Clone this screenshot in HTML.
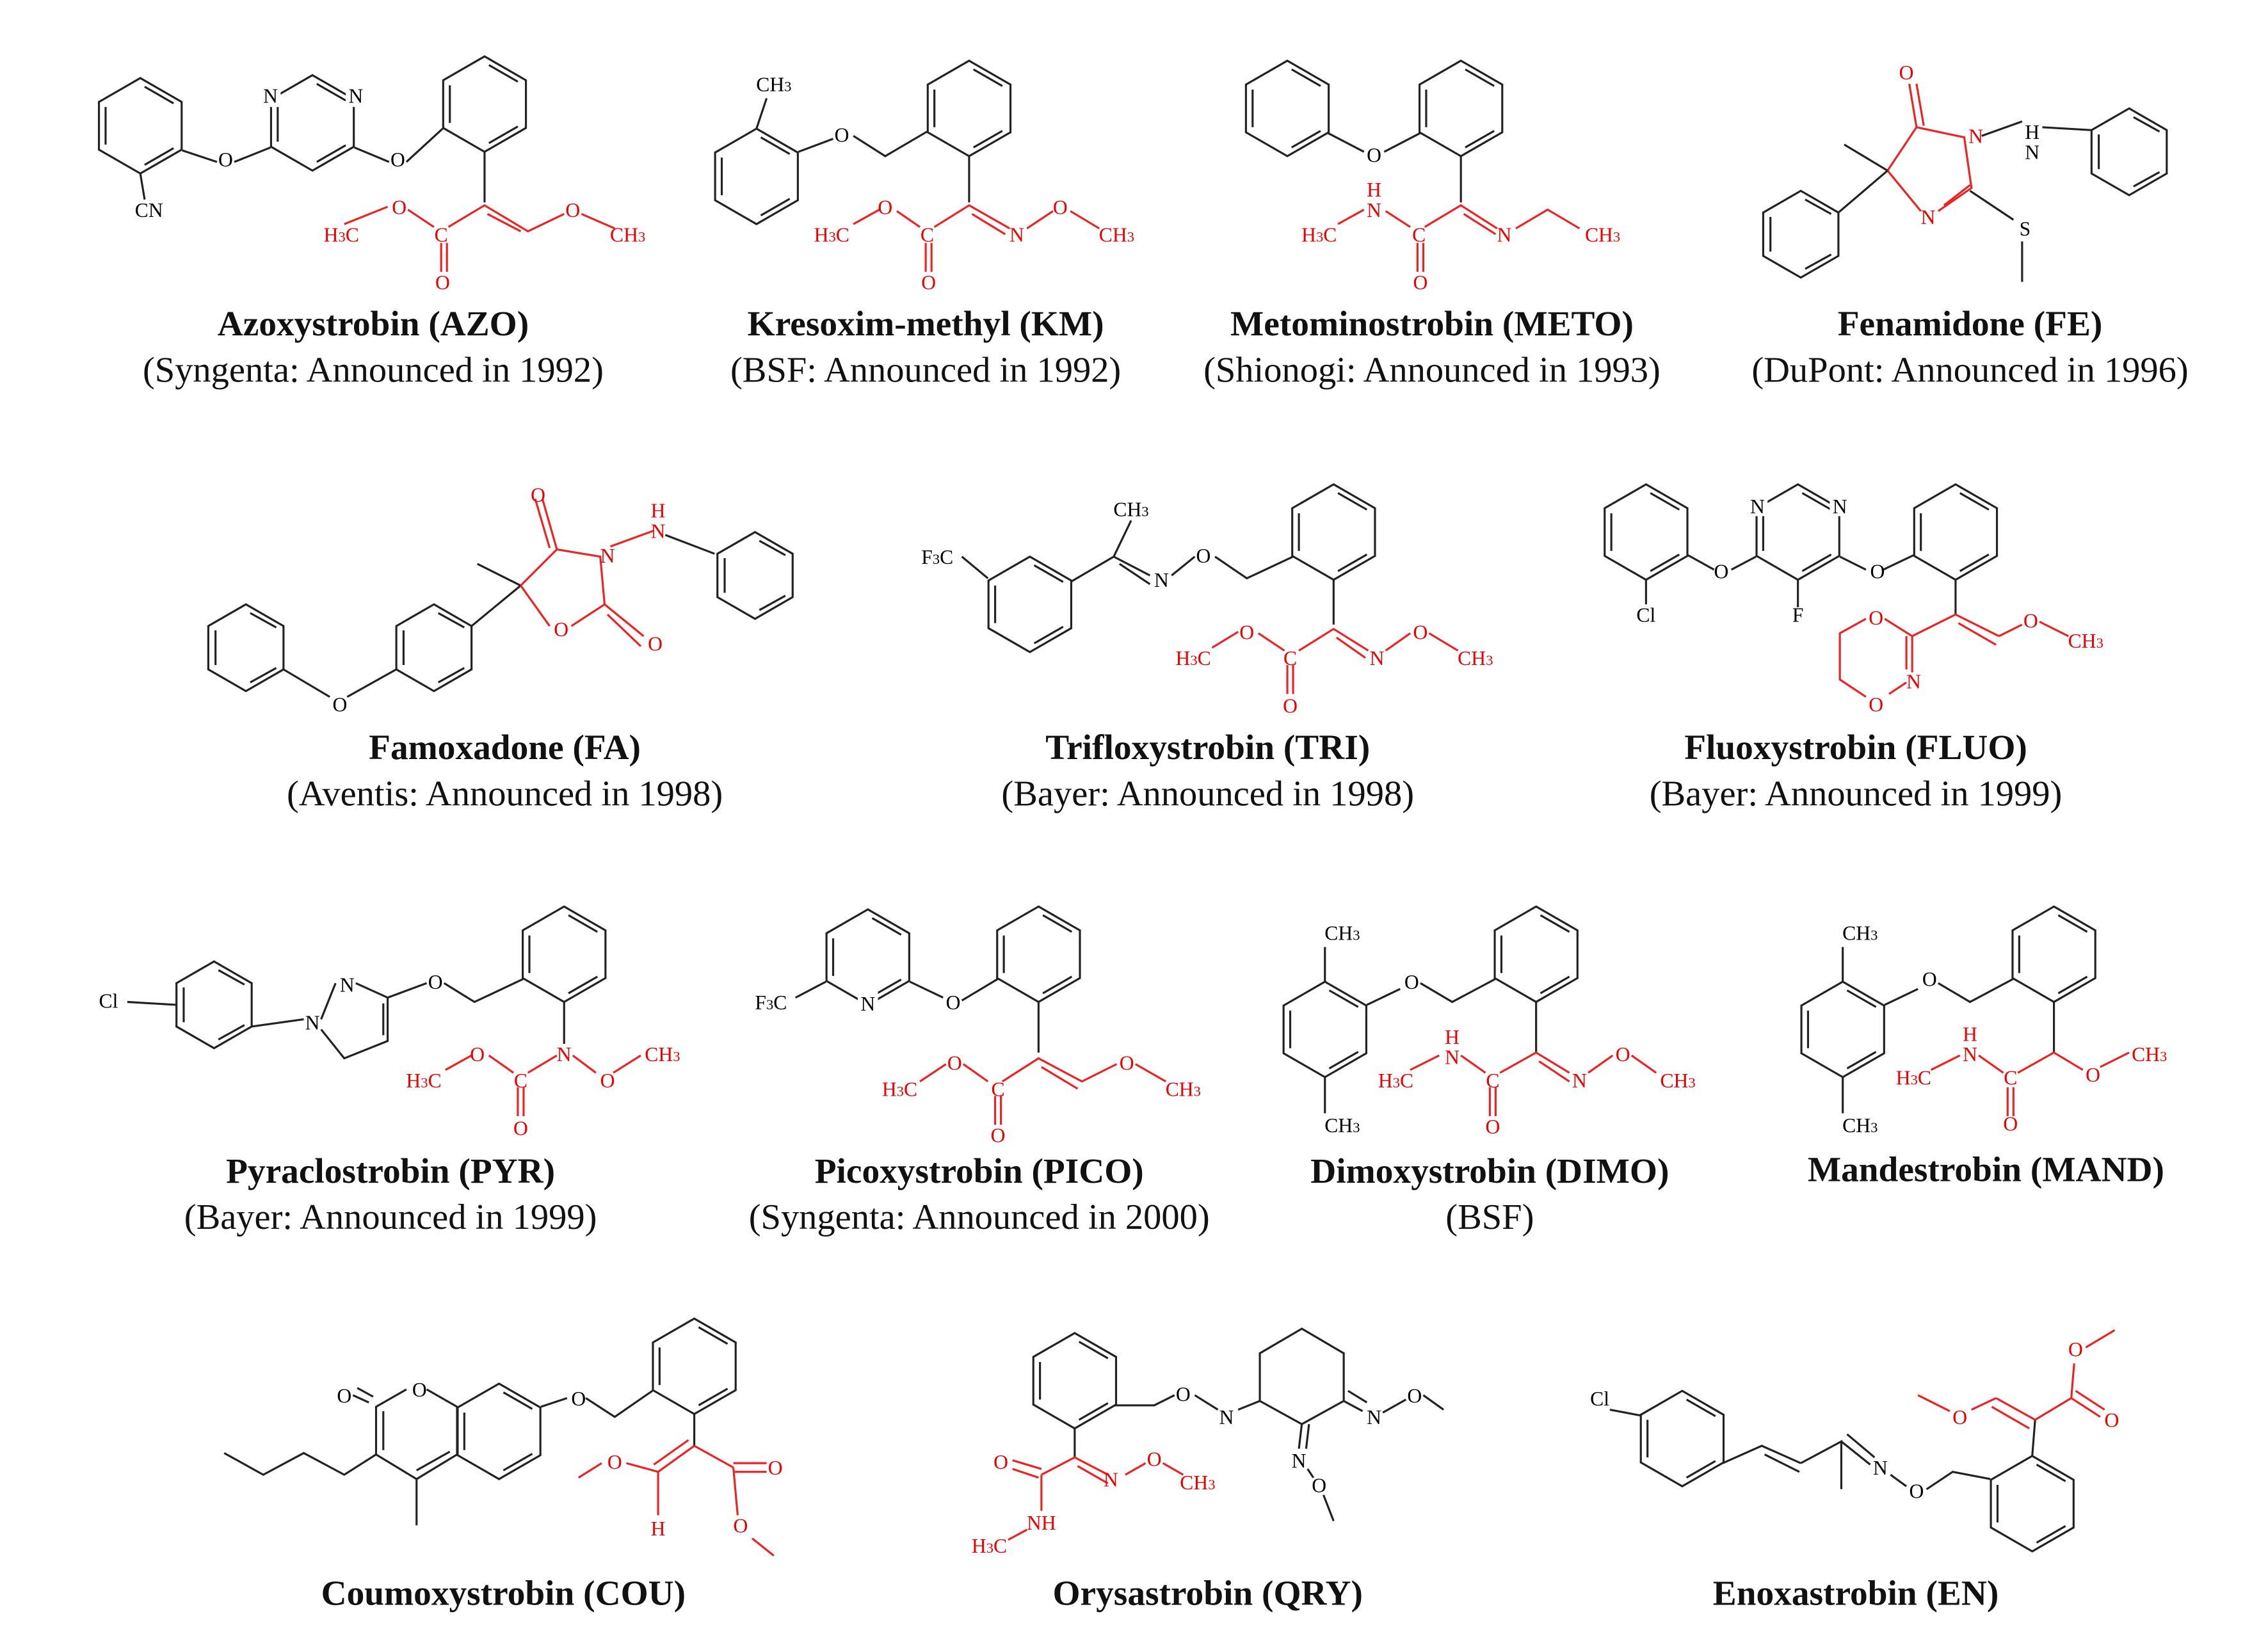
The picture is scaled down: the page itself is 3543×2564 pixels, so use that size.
<!DOCTYPE html>
<html><head><meta charset="utf-8"><style>
html,body{margin:0;padding:0;background:#fff;}
svg{display:block;}
text{font-family:"Liberation Serif",serif;}
.t{font-weight:bold;font-size:24.5px;text-anchor:middle;fill:#111;}
.s{font-size:25px;text-anchor:middle;fill:#111;}
.a{font-size:14px;fill:#000;text-anchor:middle;}
.r{font-size:14px;fill:#e00;text-anchor:middle;}
.k{stroke:#222;stroke-width:1.4;fill:none;}
.rd{stroke:#e22;stroke-width:1.4;fill:none;}
.w{fill:#fff;stroke:none;}
</style></head><body>
<svg width="3543" height="2564" viewBox="0 0 1568 1135" preserveAspectRatio="none" xmlns="http://www.w3.org/2000/svg">
<defs>
<g id="hx"><path d="M0,-33 L28.6,-16.5 L28.6,16.5 L0,33 L-28.6,16.5 L-28.6,-16.5 Z"/><path d="M3,-27 L23,-15.5 M23,15.5 L3,27 M-24,13 L-24,-13"/></g>
<g id="hx5"><path d="M0,-30 L26,-15 L26,15 L0,30 L-26,15 L-26,-15 Z"/><path d="M3,-24 L21,-14 M21,14 L3,24 M-21,12 L-21,-12"/></g>
</defs>

<!-- ===== AZO ===== -->
<g class="k">
<use href="#hx" x="97" y="87"/>
<use href="#hx" x="216" y="85"/>
<use href="#hx" x="335" y="72"/>
<path d="M126,104 L150,112 M162,112 L187,102 M245,102 L269,112 M281,112 L306,89 M97,120 L100,138 M335,105 L335,140"/>
</g>
<rect class="w" x="180" y="58" width="14" height="16"/><rect class="w" x="239" y="58" width="14" height="16"/>
<text class="a" x="187" y="71">N</text><text class="a" x="246" y="71">N</text>
<text class="a" x="156" y="115">O</text><text class="a" x="275" y="115">O</text>
<text class="a" x="103" y="150">CN</text>
<g class="rd"><path d="M238,155 L268,143 M282,145 L300,157 M310,157 L335,142 L365,160 L390,148 M337,148 L360,160 M402,148 L425,158 M305,168 L305,188 M309,168 L309,188"/></g>
<text class="r" x="236" y="167">H<tspan font-size="10">3</tspan>C</text><text class="r" x="276" y="148">O</text>
<text class="r" x="305" y="167">C</text><text class="r" x="306" y="200">O</text>
<text class="r" x="396" y="150">O</text><text class="r" x="434" y="167">CH<tspan font-size="10">3</tspan></text>
<text class="t" x="258" y="232">Azoxystrobin (AZO)</text>
<text class="s" x="258" y="264">(Syngenta: Announced in 1992)</text>

<!-- ===== KM ===== -->
<g class="k">
<use href="#hx" x="523" y="122"/>
<use href="#hx" x="670" y="75"/>
<path d="M523,89 L530,68 M552,105 L576,96 M590,94 L612,108 L641,91 M670,108 L670,140"/>
</g>
<text class="a" x="535" y="63">CH<tspan font-size="10">3</tspan></text>
<text class="a" x="582" y="98">O</text>
<g class="rd"><path d="M590,155 L608,145 M620,146 L636,157 M646,157 L670,142 L698,158 M672,148 L695,162 M710,158 L728,146 M740,146 L760,158 M640,168 L640,188 M644,168 L644,188"/></g>
<text class="r" x="575" y="167">H<tspan font-size="10">3</tspan>C</text><text class="r" x="612" y="148">O</text>
<text class="r" x="641" y="167">C</text><text class="r" x="642" y="200">O</text>
<text class="r" x="703" y="167">N</text><text class="r" x="733" y="148">O</text><text class="r" x="772" y="167">CH<tspan font-size="10">3</tspan></text>
<text class="t" x="640" y="232">Kresoxim-methyl (KM)</text>
<text class="s" x="640" y="264">(BSF: Announced in 1992)</text>

<!-- ===== METO ===== -->
<g class="k">
<use href="#hx" x="890" y="75"/>
<use href="#hx" x="1010" y="75"/>
<path d="M918,92 L943,105 M957,105 L982,92 M1010,108 L1010,140"/>
</g>
<text class="a" x="950" y="112">O</text>
<g class="rd"><path d="M925,155 L943,145 M958,146 L975,157 M985,157 L1010,142 L1035,158 M1012,148 L1034,162 M1048,158 L1070,145 L1092,158 M980,168 L980,188 M984,168 L984,188"/></g>
<text class="r" x="912" y="167">H<tspan font-size="10">3</tspan>C</text><text class="r" x="950" y="136">H</text><text class="r" x="950" y="150">N</text>
<text class="r" x="981" y="167">C</text><text class="r" x="982" y="200">O</text>
<text class="r" x="1040" y="167">N</text><text class="r" x="1108" y="167">CH<tspan font-size="10">3</tspan></text>
<text class="t" x="990" y="232">Metominostrobin (METO)</text>
<text class="s" x="990" y="264">(Shionogi: Announced in 1993)</text>

<!-- ===== FE ===== -->
<g class="rd"><path d="M1305,118 L1325,88 L1358,95 L1363,130 L1340,146 M1328,146 L1305,118 M1325,88 L1320,58 M1330,87 L1325,58 M1344,142 L1362,128"/></g>
<g class="k"><use href="#hx5" x="1472" y="105"/><use href="#hx5" x="1245" y="162"/>
<path d="M1370,94 L1398,84 M1412,88 L1446,90 M1305,118 L1271,147 M1305,118 L1275,100 M1362,132 L1392,152 M1398,167 L1398,195"/></g>
<text class="r" x="1318" y="55">O</text><text class="r" x="1366" y="99">N</text><text class="r" x="1333" y="155">N</text>
<text class="a" x="1405" y="96">H</text><text class="a" x="1405" y="110">N</text><text class="a" x="1400" y="163">S</text>
<text class="t" x="1362" y="232">Fenamidone (FE)</text>
<text class="s" x="1362" y="264">(DuPont: Announced in 1996)</text>

<!-- ===== FA ===== -->
<g class="k"><use href="#hx5" x="170" y="448"/><use href="#hx5" x="300" y="448"/><use href="#hx5" x="522" y="398"/>
<path d="M196,463 L228,482 M240,482 L274,463 M326,433 L360,405 M360,405 L330,390 M460,370 L494,383"/></g>
<g class="rd"><path d="M360,405 L385,380 L415,385 L418,418 L395,433 M380,433 L360,405 M385,380 L375,345 M380,379 L370,345 M422,378 L452,367 M418,418 L445,440 M420,425 L443,447"/></g>
<text class="a" x="235" y="492">O</text>
<text class="r" x="372" y="347">O</text><text class="r" x="420" y="389">N</text><text class="r" x="388" y="440">O</text><text class="r" x="453" y="450">O</text>
<text class="r" x="455" y="358">H</text><text class="r" x="455" y="372">N</text>
<text class="t" x="349" y="525">Famoxadone (FA)</text>
<text class="s" x="349" y="557">(Aventis: Announced in 1998)</text>

<!-- ===== TRI ===== -->
<g class="k"><use href="#hx" x="712" y="418"/><use href="#hx" x="922" y="368"/>
<path d="M665,385 L683,400 M741,402 L770,385 L782,360 M770,385 L795,398 M774,390 L795,404 M810,398 L826,385 M840,385 L862,400 L894,385 M922,401 L922,432"/></g>
<text class="a" x="648" y="390">F<tspan font-size="10">3</tspan>C</text><text class="a" x="782" y="357">CH<tspan font-size="10">3</tspan></text>
<text class="a" x="803" y="406">N</text><text class="a" x="832" y="389">O</text>
<g class="rd"><path d="M838,448 L856,437 M870,438 L888,450 M898,450 L922,435 L946,450 M924,441 L944,455 M958,450 L975,438 M988,438 L1008,450 M890,460 L890,480 M894,460 L894,480"/></g>
<text class="r" x="825" y="460">H<tspan font-size="10">3</tspan>C</text><text class="r" x="862" y="442">O</text>
<text class="r" x="892" y="460">C</text><text class="r" x="892" y="493">O</text>
<text class="r" x="952" y="460">N</text><text class="r" x="982" y="442">O</text><text class="r" x="1020" y="460">CH<tspan font-size="10">3</tspan></text>
<text class="t" x="835" y="525">Trifloxystrobin (TRI)</text>
<text class="s" x="835" y="557">(Bayer: Announced in 1998)</text>

<!-- ===== FLUO ===== -->
<g class="k"><use href="#hx" x="1138" y="368"/>
<use href="#hx" x="1243" y="368"/>
<use href="#hx" x="1352" y="368"/>
<path d="M1167,384 L1185,394 M1197,394 L1214,385 M1272,385 L1290,394 M1302,394 L1323,384 M1243,401 L1243,420 M1138,401 L1138,418 M1352,401 L1352,425"/></g>
<rect class="w" x="1208" y="341" width="14" height="16"/><rect class="w" x="1265" y="341" width="14" height="16"/>
<text class="a" x="1215" y="355">N</text><text class="a" x="1272" y="355">N</text>
<text class="a" x="1190" y="400">O</text><text class="a" x="1298" y="400">O</text>
<text class="a" x="1138" y="430">Cl</text><text class="a" x="1243" y="430">F</text>
<g class="rd"><path d="M1290,428 L1272,438 L1272,470 L1290,482 M1303,428 L1322,440 L1322,465 M1318,440 L1318,463 M1322,440 L1352,425 L1382,440 M1354,431 L1380,446 M1382,440 L1398,432 M1410,430 L1430,440 M1306,480 L1318,472"/></g>
<text class="r" x="1297" y="432">O</text><text class="r" x="1297" y="492">O</text><text class="r" x="1323" y="476">N</text>
<text class="r" x="1404" y="434">O</text><text class="r" x="1442" y="448">CH<tspan font-size="10">3</tspan></text>
<text class="t" x="1283" y="525">Fluoxystrobin (FLUO)</text>
<text class="s" x="1283" y="557">(Bayer: Announced in 1999)</text>

<!-- ===== PYR ===== -->
<g class="k"><use href="#hx5" x="148" y="695"/>
<path d="M174,710 L210,705 M222,705 L232,680 M246,680 L268,690 L268,720 L238,732 L222,712 M265,694 L265,716 M268,690 L295,680 M307,680 L328,693 L362,677"/>
<use href="#hx" x="390" y="660"/><path d="M88,693 L122,695 M390,693 L390,722"/></g>
<text class="a" x="75" y="697">Cl</text><text class="a" x="216" y="712">N</text><text class="a" x="240" y="686">N</text><text class="a" x="301" y="684">O</text>
<g class="rd"><path d="M308,740 L326,730 M338,730 L355,742 M365,742 L385,730 M396,730 L412,742 M424,742 L443,730 M358,752 L358,772 M362,752 L362,772"/></g>
<text class="r" x="293" y="752">H<tspan font-size="10">3</tspan>C</text><text class="r" x="330" y="734">O</text>
<text class="r" x="360" y="752">C</text><text class="r" x="360" y="785">O</text>
<text class="r" x="390" y="734">N</text><text class="r" x="420" y="752">O</text><text class="r" x="458" y="734">CH<tspan font-size="10">3</tspan></text>
<text class="t" x="270" y="818">Pyraclostrobin (PYR)</text>
<text class="s" x="270" y="850">(Bayer: Announced in 1999)</text>

<!-- ===== PICO ===== -->
<g class="k"><use href="#hx" x="600" y="662"/>
<path d="M550,690 L571,679 M629,679 L652,690 M665,692 L690,677 M718,693 L718,728"/>
<use href="#hx" x="718" y="660"/></g>
<rect class="w" x="593" y="686" width="14" height="16"/>
<text class="a" x="533" y="698">F<tspan font-size="10">3</tspan>C</text><text class="a" x="600" y="699">N</text><text class="a" x="659" y="698">O</text>
<g class="rd"><path d="M636,748 L654,736 M666,736 L683,748 M693,748 L718,732 L748,748 L772,736 M720,738 L745,753 M785,736 L806,748 M688,758 L688,778 M692,758 L692,778"/></g>
<text class="r" x="622" y="758">H<tspan font-size="10">3</tspan>C</text><text class="r" x="660" y="740">O</text>
<text class="r" x="690" y="758">C</text><text class="r" x="690" y="790">O</text>
<text class="r" x="779" y="740">O</text><text class="r" x="818" y="758">CH<tspan font-size="10">3</tspan></text>
<text class="t" x="677" y="818">Picoxystrobin (PICO)</text>
<text class="s" x="677" y="850">(Syngenta: Announced in 2000)</text>

<!-- ===== DIMO ===== -->
<g class="k"><use href="#hx" x="916" y="712"/><use href="#hx" x="1062" y="660"/>
<path d="M916,679 L916,655 M916,745 L916,770 M945,695 L968,684 M982,680 L1004,693 L1034,677 M1062,693 L1062,728"/></g>
<text class="a" x="928" y="650">CH<tspan font-size="10">3</tspan></text><text class="a" x="928" y="783">CH<tspan font-size="10">3</tspan></text><text class="a" x="976" y="684">O</text>
<g class="rd"><path d="M975,740 L995,730 M1010,730 L1027,742 M1037,742 L1062,728 L1085,742 M1064,734 L1085,748 M1098,742 L1115,730 M1128,730 L1145,742 M1030,752 L1030,772 M1034,752 L1034,772"/></g>
<text class="r" x="965" y="752">H<tspan font-size="10">3</tspan>C</text><text class="r" x="1004" y="722">H</text><text class="r" x="1004" y="736">N</text>
<text class="r" x="1032" y="752">C</text><text class="r" x="1032" y="784">O</text>
<text class="r" x="1092" y="752">N</text><text class="r" x="1122" y="734">O</text><text class="r" x="1160" y="752">CH<tspan font-size="10">3</tspan></text>
<text class="t" x="1030" y="818">Dimoxystrobin (DIMO)</text>
<text class="s" x="1030" y="850">(BSF)</text>

<!-- ===== MAND ===== -->
<g class="k"><use href="#hx" x="1274" y="712"/><use href="#hx" x="1420" y="660"/>
<path d="M1274,679 L1274,655 M1274,745 L1274,770 M1303,695 L1326,684 M1340,680 L1362,693 L1392,677 M1420,693 L1420,728"/></g>
<text class="a" x="1286" y="650">CH<tspan font-size="10">3</tspan></text><text class="a" x="1286" y="783">CH<tspan font-size="10">3</tspan></text><text class="a" x="1334" y="682">O</text>
<g class="rd"><path d="M1335,740 L1355,730 M1368,730 L1385,742 M1395,742 L1420,728 L1440,740 M1452,738 L1472,728 M1388,752 L1388,772 M1392,752 L1392,772"/></g>
<text class="r" x="1323" y="750">H<tspan font-size="10">3</tspan>C</text><text class="r" x="1362" y="720">H</text><text class="r" x="1362" y="734">N</text>
<text class="r" x="1390" y="750">C</text><text class="r" x="1390" y="782">O</text>
<text class="r" x="1447" y="748">O</text><text class="r" x="1486" y="734">CH<tspan font-size="10">3</tspan></text>
<text class="t" x="1373" y="817">Mandestrobin (MAND)</text>

<!-- ===== COU ===== -->
<g class="k">
<path d="M281,961 L260,973 L260,1006 L288,1023 L316,1006 L316,973 L295,961 M265,976 L265,1003 M288,1017 L311,1004"/>
<use href="#hx" x="345" y="990"/>
<path d="M255,970 L244,965 M258,966 L247,960 M260,1006 L238,1020 L210,1005 L182,1020 L155,1005 M288,1023 L288,1055 M374,973 L392,967 M405,967 L425,980 L451,962 M480,978 L480,1000"/>
<use href="#hx" x="480" y="945"/></g>
<text class="a" x="238" y="970">O</text><text class="a" x="290" y="966">O</text><text class="a" x="400" y="972">O</text>
<g class="rd"><path d="M480,1000 L455,1018 M476,996 L452,1013 M455,1018 L433,1012 M416,1012 L400,1022 M455,1018 L455,1048 M480,1000 L507,1015 M507,1012 L530,1012 M507,1018 L530,1018 M507,1015 L510,1048 M520,1064 L535,1076"/></g>
<text class="r" x="425" y="1016">O</text><text class="r" x="455" y="1062">H</text><text class="r" x="536" y="1020">O</text><text class="r" x="512" y="1060">O</text>
<text class="t" x="348" y="1110">Coumoxystrobin (COU)</text>

<!-- ===== QRY ===== -->
<g class="k"><use href="#hx" x="743" y="955"/>
<path d="M771,972 L798,972 L812,965 M826,965 L842,975 M900,919 L929,936 L929,969 L900,985 L871,969 L871,936 Z M856,975 L871,969 M929,969 L942,976 M932,962 L945,970 M956,977 L972,968 M984,965 L998,975 M900,985 L898,1002 M905,985 L903,1002 M904,1016 L908,1022 M915,1034 L922,1052 M743,988 L743,1008"/></g>
<text class="a" x="848" y="985">N</text><text class="a" x="818" y="969">O</text><text class="a" x="950" y="985">N</text>
<text class="a" x="898" y="1015">N</text><text class="a" x="912" y="1032">O</text><text class="a" x="978" y="970">O</text>
<g class="rd"><path d="M700,1010 L720,1016 M700,1016 L718,1022 M720,1020 L743,1008 L766,1020 M745,1014 L766,1026 M778,1020 L792,1012 M804,1012 L818,1020 M720,1020 L720,1045 M710,1058 L697,1065"/></g>
<text class="r" x="692" y="1016">O</text><text class="r" x="768" y="1028">N</text><text class="r" x="798" y="1014">O</text><text class="r" x="828" y="1030">CH<tspan font-size="10">3</tspan></text>
<text class="r" x="720" y="1058">NH</text><text class="r" x="684" y="1074">H<tspan font-size="10">3</tspan>C</text>
<text class="t" x="835" y="1110">Orysastrobin (QRY)</text>

<!-- ===== EN ===== -->
<g class="k"><use href="#hx" x="1163" y="995"/>
<path d="M1113,975 L1134,979 M1191,1012 L1218,1000 L1245,1012 M1220,1006 L1244,1018 M1245,1012 L1273,997 L1273,1030 M1273,997 L1293,1013 M1277,992 L1296,1008 M1307,1020 L1318,1028 M1332,1030 L1350,1018 L1376,1023 M1405,1007 L1407,982"/>
<use href="#hx" x="1405" y="1040"/></g>
<text class="a" x="1106" y="972">Cl</text><text class="a" x="1300" y="1020">N</text><text class="a" x="1325" y="1036">O</text>
<g class="rd"><path d="M1407,982 L1380,967 M1403,988 L1377,973 M1380,967 L1363,975 M1348,976 L1326,965 M1407,982 L1432,967 M1432,967 L1452,980 M1435,962 L1455,975 M1432,967 L1434,943 M1442,932 L1462,920"/></g>
<text class="r" x="1355" y="985">O</text><text class="r" x="1435" y="938">O</text><text class="r" x="1460" y="987">O</text>
<text class="t" x="1283" y="1110">Enoxastrobin (EN)</text>
</svg>
</body></html>
